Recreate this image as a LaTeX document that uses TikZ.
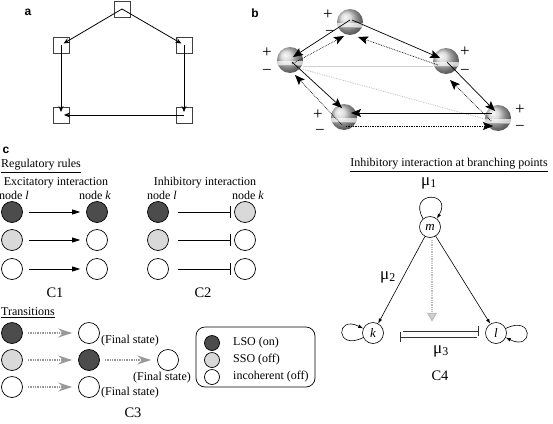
\documentclass[tikz,border=0pt]{standalone}
\usepackage{fontspec}
\setmainfont{Liberation Serif}
\newfontfamily\lsans{Liberation Sans}
\usetikzlibrary{arrows.meta,calc}
\begin{document}
\begin{tikzpicture}[x=1pt,y=1pt,
 every node/.style={font=\fontsize{12}{14}\selectfont, inner sep=0},
 lab/.style={font=\lsans\bfseries\fontsize{12}{12}\selectfont},
 big/.style={font=\fontsize{14.5}{16}\selectfont},
 mu/.style={font=\fontsize{17}{18}\selectfont},
 sq/.style={draw=black!75, line width=0.6pt, minimum size=16pt, inner sep=0},
 aar/.style={-{Stealth[length=6pt,width=5pt]}, line width=0.8pt, shorten >=3pt},
 ball/.style={circle, minimum size=26pt, inner sep=0},
 pm/.style={font=\fontsize{17}{17}\selectfont},
 bs/.style={-{Stealth[length=10pt,width=8pt,inset=2pt]}, line width=0.7pt},
 bd/.style={bs, densely dotted},
 st/.style={circle, draw, line width=0.7pt, minimum size=21pt, inner sep=0},
 on/.style={st, fill=black!70},
 half/.style={st, fill=black!15},
 lg/.style={circle, draw, line width=0.7pt, minimum size=15pt, inner sep=0},
 exc/.style={-{Triangle[length=8pt,width=5pt]}, line width=0.7pt, shorten <=6pt, shorten >=6pt},
 inh/.style={-{Bar[width=12pt,line width=0.8pt]}, line width=0.7pt, shorten <=9pt, shorten >=3pt},
 tr/.style={densely dotted, draw=black!40, line width=1.4pt, -{Stealth[length=14pt,width=9pt,inset=5pt,fill=black!40]}, shorten <=5pt, shorten >=6pt},
 c4n/.style={circle, draw, line width=0.6pt, minimum size=21pt, inner sep=0, font=\itshape\fontsize{13}{14}\selectfont},
 c4a/.style={-{Latex[length=5pt,width=3.5pt]}, line width=0.6pt},
 c4i/.style={-{Bar[width=10pt,line width=0.8pt]}, line width=0.8pt, draw=black!80},
]
\path[use as bounding box] (0,0) rectangle (553,-423);

% ---------- panel a ----------
\node[lab] (la) at (28,-12) {a};
\node[sq] (aT) at (122,-9) {};
\node[sq] (aL) at (61,-45) {};
\node[sq] (aR) at (184,-45) {};
\node[sq] (aBL) at (61,-115) {};
\node[sq] (aBR) at (184,-115) {};
\draw[aar] (aT.center) -- (aL.center);
\draw[aar] (aT.center) -- (aR.center);
\draw[aar] (aL.center) -- (aBL.center);
\draw[aar] (aR.center) -- (aBR.center);
\draw[aar] (aBR.center) -- (aBL.center);

% ---------- panel b ----------
\node[lab] (lb) at (255,-13) {b};
\node[ball] (bT) at (350,-22) {};
\node[ball] (bL) at (290,-60) {};
\node[ball] (bR) at (446,-61) {};
\node[ball] (bBL) at (344,-117) {};
\node[ball] (bBR) at (498,-118) {};
\foreach \n in {bT,bL,bR,bBL,bBR}{
  \shade[ball color=black!18] (\n) circle (13);
  \begin{scope}
    \clip (\n) circle (13);
    \fill[white,opacity=0.7] ($(\n)+(-14,-1)$) rectangle ($(\n)+(14,-5)$);
    \draw[black!35,line width=0.5pt] ($(\n)+(-14,-5)$) -- ($(\n)+(14,-5)$);
  \end{scope}
}
% gray lines
\draw[black!18,line width=1pt] ($(bL)+(13,-6)$) -- ($(bR)+(-13,-5)$);
\draw[black!25,densely dotted,line width=0.8pt] ($(bL)+(8,-8)$) -- ($(bBR)+(-6,-3)$);
% solid arrows
\draw[bs] ($(bT)+(0,2)$) -- ($(bL)+(3,3)$);
\draw[bs] ($(bT)+(2,2)$) -- ($(bR)+(-6,3)$);
\draw[bs] ($(bL)+(2,-2)$) -- ($(bBL)+(-2,9)$);
\draw[bs] ($(bR)+(1,-1)$) -- ($(bBR)+(-3,7)$);
\draw[bs] ($(bBR)+(-6,5)$) -- ($(bBL)+(7,4)$);
% dotted arrows
\draw[bd] ($(bL)+(2,-4)$) -- ($(bT)+(-6,-14)$);
\draw[bd] ($(bR)+(-8,-4)$) -- ($(bT)+(8,-15)$);
\draw[bd] ($(bBR)+(-7,-3)$) -- ($(bR)+(4,-19)$);
\draw[bd] ($(bBL)+(-2,-8)$) -- ($(bL)+(5,-15)$);
\draw[bd] ($(bBL)+(2,-9)$) -- ($(bBR)+(-5,-8)$);
% signs
\node[pm] (p1) at (328,-15) {+};
\node[pm] (m1) at (330,-33) {−};
\node[pm] (p2) at (267,-53) {+};
\node[pm] (m2) at (267,-72) {−};
\node[pm] (p3) at (465,-52) {+};
\node[pm] (m3) at (465,-72) {−};
\node[pm] (p4) at (318,-115) {+};
\node[pm] (m4) at (320,-132) {−};
\node[pm] (p5) at (520,-110) {+};
\node[pm] (m5) at (520,-128) {−};

% ---------- panel c ----------
\node[lab] (lc) at (6,-150) {c};
\node[anchor=west] (rr) at (1,-166) {\underline{Regulatory rules}};
\node (ex) at (56,-183) {Excitatory interaction};
\node (n1l) at (14,-195) {node \textit{l}};
\node (n1k) at (95,-195) {node \textit{k}};
\node (ih) at (205,-183) {Inhibitory interaction};
\node (n2l) at (162,-195) {node \textit{l}};
\node (n2k) at (248,-195) {node \textit{k}};

\node[on] (e1a) at (12,-212) {};
\node[half] (e2a) at (12,-240) {};
\node[st] (e3a) at (12,-269) {};
\node[on] (e1b) at (97,-212) {};
\node[st] (e2b) at (97,-240) {};
\node[st] (e3b) at (97,-269) {};
\draw[exc] (e1a) -- (e1b);
\draw[exc] (e2a) -- (e2b);
\draw[exc] (e3a) -- (e3b);

\node[on] (i1a) at (158,-212) {};
\node[half] (i2a) at (158,-240) {};
\node[st] (i3a) at (158,-269) {};
\node[half] (i1b) at (245,-212) {};
\node[st] (i2b) at (245,-240) {};
\node[st] (i3b) at (245,-269) {};
\draw[inh] (i1a) -- (i1b);
\draw[inh] (i2a) -- (i2b);
\draw[inh] (i3a) -- (i3b);

\node[big] (C1) at (55,-293) {C1};
\node[big] (C2) at (203,-293) {C2};

% transitions
\node[anchor=west] (trn) at (1,-313) {\underline{Transitions}};
\node[on] (t1a) at (12,-333) {};
\node[half] (t2a) at (12,-360) {};
\node[st] (t3a) at (12,-387) {};
\node[st] (t1b) at (89,-333) {};
\node[on] (t2b) at (89,-360) {};
\node[st] (t3b) at (89,-387) {};
\node[st] (t2c) at (168,-360) {};
\draw[tr] (t1a) -- (t1b);
\draw[tr] (t2a) -- (t2b);
\draw[tr] (t3a) -- (t3b);
\draw[tr] (t2b) -- (t2c);
\node[anchor=west] (f1) at (101,-341) {(Final state)};
\node (f2) at (162,-378) {(Final state)};
\node[anchor=west] (f3) at (101,-393) {(Final state)};
\node[big] (C3) at (133,-413) {C3};

% legend
\draw[rounded corners=9pt, line width=0.7pt] (196,-327) rectangle (315,-387);
\node[lg, fill=black!70] (g1) at (212,-343) {};
\node[lg, fill=black!15] (g2) at (212,-360) {};
\node[lg] (g3) at (212,-377) {};
\node[anchor=west] (gt1) at (233,-343) {LSO (on)};
\node[anchor=west] (gt2) at (233,-360) {SSO (off)};
\node[anchor=west] (gt3) at (233,-377) {incoherent (off)};

% ---------- C4 ----------
\node (c4t) at (449,-165) {\underline{Inhibitory interaction at branching points}};
\node[c4n] (m) at (430,-227) {m};
\node[c4n] (k) at (373,-333) {k};
\node[c4n] (l) at (496,-333) {l};
\node[mu] (mu1) at (429,-183) {μ\textsubscript{1}};
\node[mu] (mu2) at (388,-277) {μ\textsubscript{2}};
\node[mu] (mu3) at (441,-351) {μ\textsubscript{3}};
\node[big] (C4) at (440,-376) {C4};
\draw[c4a] (m) -- (k);
\draw[c4a] (m) -- (l);
\draw[c4a] (m.130) .. controls +(-16,28) and +(16,28) .. (m.50);
\draw[c4a] (k.205) .. controls +(-28,-14) and +(-28,14) .. (k.155);
\draw[c4a] (l.25) .. controls +(28,14) and +(28,-14) .. (l.-25);
\draw[black!25, densely dotted, line width=1.3pt, -{Triangle[length=9pt,width=10pt,fill=black!18]}] ($(m.south)+(2,-2)$) -- ($(m.south)+(2,-84)$);
\draw[c4i] ($(k.east)+(19,2)$) -- ($(l.west)+(-6,2)$);
\draw[c4i] ($(l.west)+(-8,-4)$) -- ($(k.east)+(16,-4)$);
\end{tikzpicture}
\end{document}
